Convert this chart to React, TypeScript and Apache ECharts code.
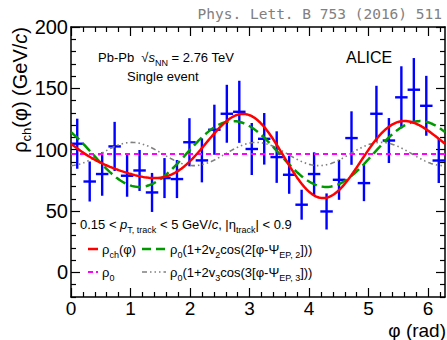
import React, { useEffect, useRef } from "react";
import * as echarts from "echarts";

// ---- axis ranges ----
const PHI_MIN = 0;
const PHI_MAX = 2 * Math.PI;
const Y_MIN = -20;
const Y_MAX = 200;
const N_BINS = 30;

// ---- measured single-event rho_ch(phi) (GeV/c) per azimuthal bin ----
const rhoValues = [
  104.9, 74.1, 80.2, 102.7, 78.8, 83.1, 65.2, 76.9, 76.1, 106.1,
  91.3, 116.3, 129.3, 130.9, 100.6, 108.9, 94.0, 79.6, 55.2, 80.2,
  49.7, 75.5, 109.5, 72.8, 129.3, 107.5, 142.7, 148.9, 135.8, 91.2,
];
const rhoErrors = [
  20.4, 16.3, 17.7, 20.0, 17.1, 16.7, 15.9, 16.3, 15.5, 19.6,
  17.9, 20.4, 23.6, 25.3, 21.2, 21.0, 21.0, 15.5, 12.2, 17.7,
  14.7, 16.3, 21.8, 14.7, 22.8, 18.3, 25.3, 25.8, 24.4, 18.3,
];

// ---- fit parameters ----
const rho0 = 96.5;
const v2 = 0.139;
const psi2 = 2.72;
const v3 = 0.049;
const psi3 = 1.02;

// ---- ticks ----
const xMajorTicks = [0, 1, 2, 3, 4, 5, 6];
const yMajorTicks = [0, 50, 100, 150, 200];
const xMinorTicks: number[] = [];
for (let k = 1; k <= 31; k++) {
  const v = Math.round(k * 2) / 10;
  if (Math.abs(v - Math.round(v)) > 1e-6) xMinorTicks.push(v);
}
const yMinorTicks: number[] = [];
for (let v = Y_MIN; v <= Y_MAX; v += 10) if (v % 50 !== 0) yMinorTicks.push(v);

const FONT = "Liberation Sans";

function sampleCurve(f: (p: number) => number): number[][] {
  const out: number[][] = [];
  const n = 240;
  for (let i = 0; i <= n; i++) {
    const p = PHI_MIN + ((PHI_MAX - PHI_MIN) * i) / n;
    out.push([p, f(p)]);
  }
  return out;
}

export default function App() {
  const ref = useRef<HTMLDivElement>(null);
  useEffect(() => {
    document.body.style.margin = "0";
    const chart = echarts.init(ref.current!, undefined, { renderer: "svg" });
    const binW = (PHI_MAX - PHI_MIN) / N_BINS;
    const points = rhoValues.map((v, i) => [PHI_MIN + (i + 0.5) * binW, v, rhoErrors[i]]);

    const green = sampleCurve((p) => rho0 * (1 + 2 * v2 * Math.cos(2 * (p - psi2))));
    const gray = sampleCurve((p) => rho0 * (1 + 2 * v3 * Math.cos(3 * (p - psi3))));
    const red = sampleCurve(
      (p) => rho0 * (1 + 2 * v2 * Math.cos(2 * (p - psi2)) + 2 * v3 * Math.cos(3 * (p - psi3)))
    );
    const flat = [[PHI_MIN, rho0], [PHI_MAX, rho0]];

    const axisLineStyle = { color: "#000", width: 1.5 };
    const mkX = (pos: string, major: boolean) => ({
      type: "value",
      min: PHI_MIN,
      max: PHI_MAX,
      position: pos,
      axisLine: { show: major, onZero: false, lineStyle: axisLineStyle },
      axisTick: {
        show: true,
        inside: true,
        length: major ? 9 : 5,
        customValues: major ? xMajorTicks : xMinorTicks,
        lineStyle: { color: "#000", width: 1.2 },
      },
      axisLabel:
        major && pos === "bottom"
          ? {
              show: true,
              customValues: xMajorTicks,
              fontSize: 19,
              lineHeight: 16,
              color: "#000",
              fontFamily: FONT,
              margin: 3,
            }
          : { show: false },
      splitLine: { show: false },
    });
    const mkY = (pos: string, major: boolean) => ({
      type: "value",
      min: Y_MIN,
      max: Y_MAX,
      position: pos,
      axisLine: { show: major, onZero: false, lineStyle: axisLineStyle },
      axisTick: {
        show: true,
        inside: true,
        length: major ? 9 : 5,
        customValues: major ? yMajorTicks : yMinorTicks,
        lineStyle: { color: "#000", width: 1.2 },
      },
      axisLabel:
        major && pos === "left"
          ? {
              show: true,
              customValues: yMajorTicks,
              fontSize: 20,
              lineHeight: 16,
              color: "#000",
              fontFamily: FONT,
              margin: 3,
            }
          : { show: false },
      splitLine: { show: false },
    });

    const main = { fontSize: 13, fontFamily: FONT, lineHeight: 20, fill: "#000" };
    const mainI = { ...main, fontStyle: "italic" };
    const sub = { fontSize: 9, fontFamily: FONT, lineHeight: 9, verticalAlign: "bottom", fill: "#000" };
    const rich = { a: main, i: mainI, s: sub };

    const txt = (x: number, y: number, text: string, extra: any = {}) => ({
      type: "text",
      x,
      y,
      silent: true,
      style: { text, rich, verticalAlign: "middle", align: "left", ...extra },
    });
    const sample = (x1: number, y: number, x2: number, color: string, width: number, dash: any) => ({
      type: "line",
      silent: true,
      shape: { x1, y1: y, x2, y2: y },
      style: { stroke: color, lineWidth: width, lineDash: dash },
    });

    chart.setOption({
      animation: false,
      backgroundColor: "#fff",
      grid: { left: 71, top: 27, width: 374, height: 270, containLabel: false, outerBoundsMode: "none" },
      xAxis: [mkX("bottom", true), mkX("bottom", false), mkX("top", true), mkX("top", false)],
      yAxis: [mkY("left", true), mkY("left", false), mkY("right", true), mkY("right", false)],
      series: [
        {
          type: "custom",
          name: "data",
          xAxisIndex: 0,
          yAxisIndex: 0,
          data: points,
          encode: { x: 0, y: 1 },
          z: 2,
          renderItem: (params: any, api: any) => {
            const x = api.value(0);
            const y = api.value(1);
            const e = api.value(2);
            const c = api.coord([x, y]);
            const hi = api.coord([x, y + e]);
            const lo = api.coord([x, y - e]);
            const l = api.coord([x - binW / 2, y]);
            const r = api.coord([x + binW / 2, y]);
            const st = { stroke: "#0000ff", lineWidth: 2.4 };
            return {
              type: "group",
              children: [
                { type: "line", shape: { x1: c[0], y1: hi[1], x2: c[0], y2: lo[1] }, style: st },
                { type: "line", shape: { x1: l[0], y1: c[1], x2: r[0], y2: c[1] }, style: st },
              ],
            };
          },
        },
        {
          type: "line",
          name: "v3",
          data: gray,
          showSymbol: false,
          z: 3,
          lineStyle: { color: "#808080", width: 1.6, type: [5, 3, 1.5, 3, 1.5, 3, 1.5, 3] },
        },
        {
          type: "line",
          name: "rho0",
          data: flat,
          showSymbol: false,
          z: 3,
          lineStyle: { color: "#ff00ff", width: 2.2, type: [5, 4] },
        },
        {
          type: "line",
          name: "v2",
          data: green,
          showSymbol: false,
          z: 4,
          lineStyle: { color: "#009900", width: 2.5, type: [11, 5] },
        },
        {
          type: "line",
          name: "rhoch",
          data: red,
          showSymbol: false,
          z: 5,
          lineStyle: { color: "#ff0000", width: 2.5 },
        },
      ],
      graphic: [
        {
          type: "text",
          x: 442,
          y: 14,
          silent: true,
          style: {
            text: "Phys. Lett. B 753 (2016) 511",
            fontFamily: "DejaVu Sans Mono",
            fontSize: 14.5,
            fill: "#808080",
            align: "right",
            verticalAlign: "middle",
          },
        },
        {
          type: "text",
          x: 20,
          y: 27,
          rotation: Math.PI / 2,
          silent: true,
          style: {
            text: "{a|ρ}{s|ch}{a|(φ) (GeV/}{i|c}{a|)}",
            rich: {
              a: { fontSize: 20, fontFamily: FONT, lineHeight: 26, fill: "#000" },
              i: { fontSize: 20, fontFamily: FONT, lineHeight: 26, fontStyle: "italic", fill: "#000" },
              s: { fontSize: 13, fontFamily: FONT, lineHeight: 13, verticalAlign: "bottom", fill: "#000" },
            },
            align: "right",
            verticalAlign: "middle",
          },
        },
        {
          type: "text",
          x: 446,
          y: 330,
          silent: true,
          style: {
            text: "φ (rad)",
            fontFamily: FONT,
            fontSize: 19,
            lineHeight: 16,
            fill: "#000",
            align: "right",
            verticalAlign: "middle",
          },
        },
        txt(98, 57, "{a|Pb-Pb  √}{i|s}{s|NN}{a| = 2.76 TeV}"),
        txt(127, 76, "{a|Single event}"),
        {
          type: "text",
          x: 346,
          y: 57,
          silent: true,
          style: { text: "ALICE", fontFamily: FONT, fontSize: 16, fill: "#000", align: "left", verticalAlign: "middle" },
        },
        txt(80, 224, "{a|0.15 < }{i|p}{s|T, track}{a| < 5 GeV/}{i|c}{a|, |η}{s|track}{a|| < 0.9}"),
        sample(88, 249, 98, "#ff0000", 2.5, null),
        txt(102, 249, "{a|ρ}{s|ch}{a|(φ)}"),
        sample(142, 249, 166, "#009900", 2.5, [9, 5]),
        txt(170, 249, "{a|ρ}{s|0}{a|(1+2v}{s|2}{a|cos(2[φ-Ψ}{s|EP, 2}{a|]))}"),
        sample(88, 272, 98, "#ff00ff", 2.2, [5, 3]),
        txt(102, 272, "{a|ρ}{s|0}"),
        sample(142, 272, 166, "#808080", 1.6, [5, 3, 1.5, 3, 1.5, 3, 1.5, 3]),
        txt(170, 272, "{a|ρ}{s|0}{a|(1+2v}{s|3}{a|cos(3[φ-Ψ}{s|EP, 3}{a|]))}"),
      ],
    });
    return () => chart.dispose();
  }, []);
  return (
    <div
      ref={ref}
      style={{ width: 447, height: 340, position: "absolute", left: 0, top: 0, background: "#fff" }}
    />
  );
}
